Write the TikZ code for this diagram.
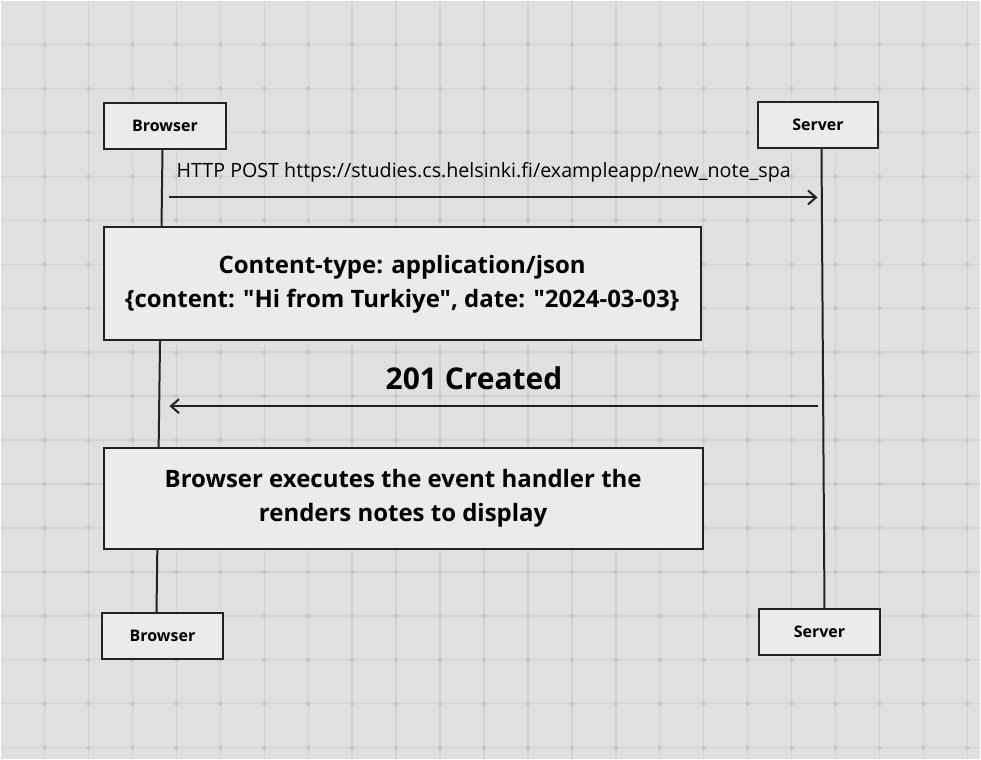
\documentclass[tikz,border=0pt]{standalone}
\usepackage{fontspec}
\setmainfont{Open Sans}[Ligatures=TeXOff]
\usepackage{xcolor}
\usetikzlibrary{arrows.meta}

\definecolor{canvas}{RGB}{224,224,224}
\definecolor{gridline}{RGB}{210,210,210}
\definecolor{griddot}{RGB}{198,198,198}
\definecolor{boxfill}{RGB}{235,235,235}
\definecolor{ink}{RGB}{34,34,34}

\begin{document}
\begin{tikzpicture}[x=1pt, y=-1pt,
    actor/.style={draw=ink, line width=2pt, fill=boxfill, inner sep=0pt,
        minimum width=122pt, minimum height=46pt, font=\fontsize{16}{18}\selectfont\bfseries},
    notebox/.style={draw=ink, line width=2pt, fill=boxfill, inner sep=0pt,
        align=center, font=\fontsize{24}{34}\selectfont\bfseries},
    lifeline/.style={draw=ink, line width=2pt},
    msg/.style={draw=ink, line width=2pt, -{Straight Barb[length=8pt, width=14pt]}}]
    % canvas with dotted grid
    \fill[canvas] (0,0) rectangle (981,759);
    \foreach \x in {44,88,...,968}
    {
        \draw[gridline, line width=1.5pt] (\x,0) -- (\x,759);
    }
    \foreach \y in {44,88,...,748}
    {
        \draw[gridline, line width=1.5pt] (0,\y) -- (981,\y);
    }
    \foreach \x in {44,88,...,968}
    {
        \foreach \y in {44,88,...,748}
        {
            \fill[griddot] (\x,\y) circle (2.2pt);
        }
    }
    % actors
    \node[actor, minimum width=123pt] (btop) at (164.5,125) {Browser};
    \node[actor, minimum width=121pt] (stop) at (818.5,124) {Server};
    \node[actor] (bbot) at (162,636) {Browser};
    \node[actor] (sbot) at (820,632) {Server};
    % lifelines
    \draw[lifeline] ([xshift=-2.5pt]btop.south) -- ([xshift=-6pt]bbot.north);
    \draw[lifeline] ([xshift=3.5pt]stop.south) -- ([xshift=5pt]sbot.north);
    % request
    \coordinate (reqs) at (169,197);
    \coordinate (reqe) at (818,197);
    \draw[msg] (reqs) -- (reqe);
    \node[anchor=west, inner sep=0pt, font=\fontsize{19.7}{22}\selectfont] (reqlabel) at (176,172)
        {HTTP POST https://studies.cs.helsinki.fi/exampleapp/new\_note\_spa};
    \node[notebox, minimum width=598pt, minimum height=113pt] (payload) at (402,283.5)
        {Content-type: application/json\\\{content: "Hi from Turkiye", date: "2024-03-03\}};
    % response
    \coordinate (ress) at (818,406);
    \coordinate (rese) at (169,406);
    \draw[msg] (ress) -- (rese);
    \node[inner sep=0pt, font=\fontsize{30}{34}\selectfont\bfseries] (created) at (474,378) {201 Created};
    \node[notebox, minimum width=600pt, minimum height=101pt] (render) at (403,498.5)
        {Browser executes the event handler the\\renders notes to display};
\end{tikzpicture}
\end{document}
